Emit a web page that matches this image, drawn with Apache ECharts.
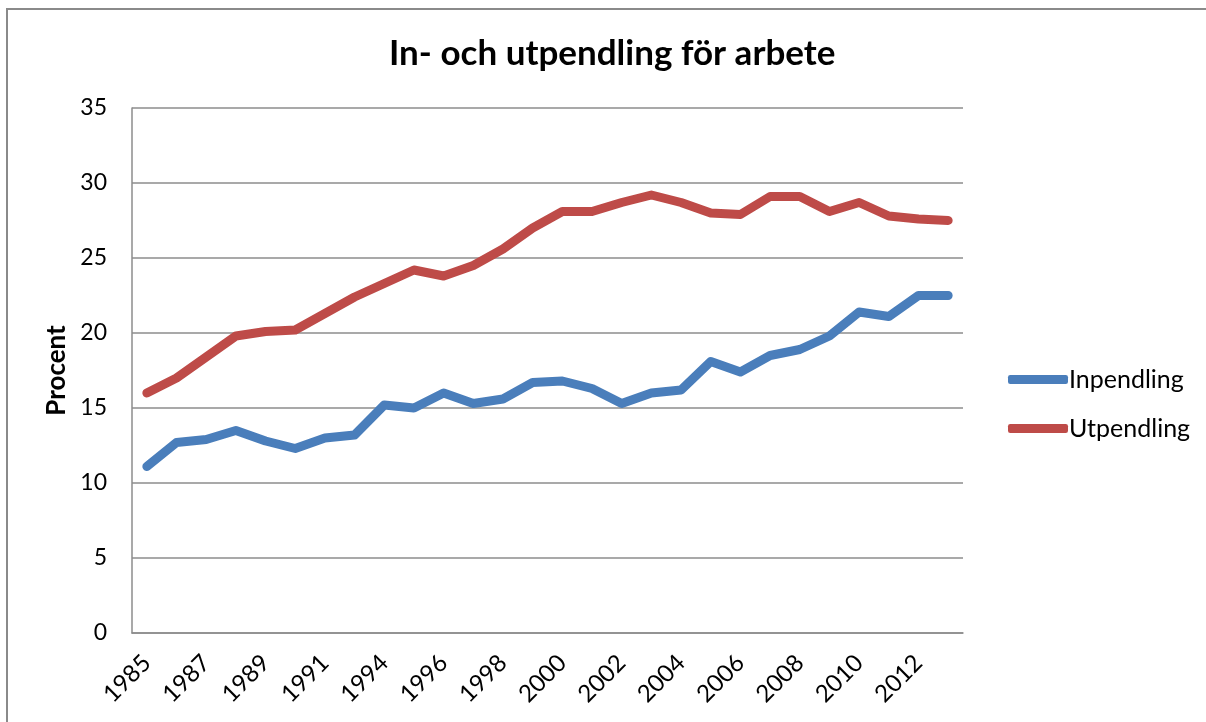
<!DOCTYPE html>
<html>
<head>
<meta charset="utf-8">
<script src="https://cdn.jsdelivr.net/npm/echarts@6/dist/echarts.min.js"></script>
<style>
  html, body { margin: 0; padding: 0; background: #fff; }
  #chart { width: 1206px; height: 722px; }
</style>
</head>
<body>
<div id="chart"></div>
<script>
const years = ['1985', '1986', '1987', '1988', '1989', '1990', '1991', '1993', '1994', '1995',
    '1996', '1997', '1998', '1999', '2000', '2001', '2002', '2003', '2004', '2005',
    '2006', '2007', '2008', '2009', '2010', '2011', '2012', '2013'];
const inpendling = [11.1, 12.7, 12.9, 13.5, 12.8, 12.3, 13.0, 13.2, 15.2, 15.0,
    16.0, 15.3, 15.6, 16.7, 16.8, 16.3, 15.3, 16.0, 16.2, 18.1,
    17.4, 18.5, 18.9, 19.8, 21.4, 21.1, 22.5, 22.5];
const utpendling = [16.0, 17.0, 18.4, 19.8, 20.1, 20.2, 21.3, 22.4, 23.3, 24.2,
    23.8, 24.5, 25.6, 27.0, 28.1, 28.1, 28.7, 29.2, 28.7, 28.0,
    27.9, 29.1, 29.1, 28.1, 28.7, 27.8, 27.6, 27.5];
const seriesNames = ['Inpendling', 'Utpendling'];
const yTicks = { min: 0, max: 35, interval: 5 };

const font = 'Lato, "Open Sans", sans-serif';

const chartEl = document.getElementById('chart');
const chart = echarts.init(chartEl);

const option = {
    animation: false,
    textStyle: { fontFamily: font },
    title: {
        text: 'In- och utpendling för arbete',
        left: 384,
        top: 31,
        textStyle: { fontSize: 35, fontWeight: 'bold', color: '#000', fontFamily: font }
    },
    graphic: [
        {
            type: 'rect',
            shape: { x: 7, y: 9, width: 1400, height: 1000 },
            style: { fill: 'none', stroke: '#8a8a8a', lineWidth: 2 },
            silent: true
        }
    ],
    legend: {
        orient: 'vertical',
        left: 1003,
        top: 362,
        itemWidth: 60,
        itemHeight: 9,
        itemGap: 24,
        icon: 'roundRect',
        data: seriesNames,
        textStyle: { fontSize: 25, color: '#000', padding: [0, 0, 0, -4] }
    },
    grid: { left: 132, right: 243, top: 108, bottom: 89 },
    xAxis: {
        type: 'category',
        data: years,
        boundaryGap: true,
        axisLine: { lineStyle: { color: '#8c8c8c', width: 1.5 } },
        axisTick: { show: false },
        axisLabel: {
            interval: 1,
            rotate: 45,
            fontSize: 24,
            color: '#000',
            margin: 26
        }
    },
    yAxis: {
        type: 'value',
        min: yTicks.min,
        max: yTicks.max,
        interval: yTicks.interval,
        name: 'Procent',
        nameLocation: 'middle',
        nameGap: 62,
        nameTextStyle: { fontSize: 26, fontWeight: 'bold', color: '#000' },
        axisLine: { show: true, lineStyle: { color: '#8c8c8c', width: 1.5 } },
        axisTick: { show: false },
        splitLine: { lineStyle: { color: '#8c8c8c', width: 1.5 } },
        axisLabel: { fontSize: 23, color: '#000', margin: 25 }
    },
    series: [
        {
            name: seriesNames[0],
            type: 'line',
            data: inpendling,
            showSymbol: false,
            color: '#4a7ebb',
            lineStyle: { width: 9, cap: 'round', join: 'round' }
        },
        {
            name: seriesNames[1],
            type: 'line',
            data: utpendling,
            showSymbol: false,
            color: '#be4b48',
            lineStyle: { width: 9, cap: 'round', join: 'round' }
        }
    ]
};
chart.setOption(option);
</script>
</body>
</html>
